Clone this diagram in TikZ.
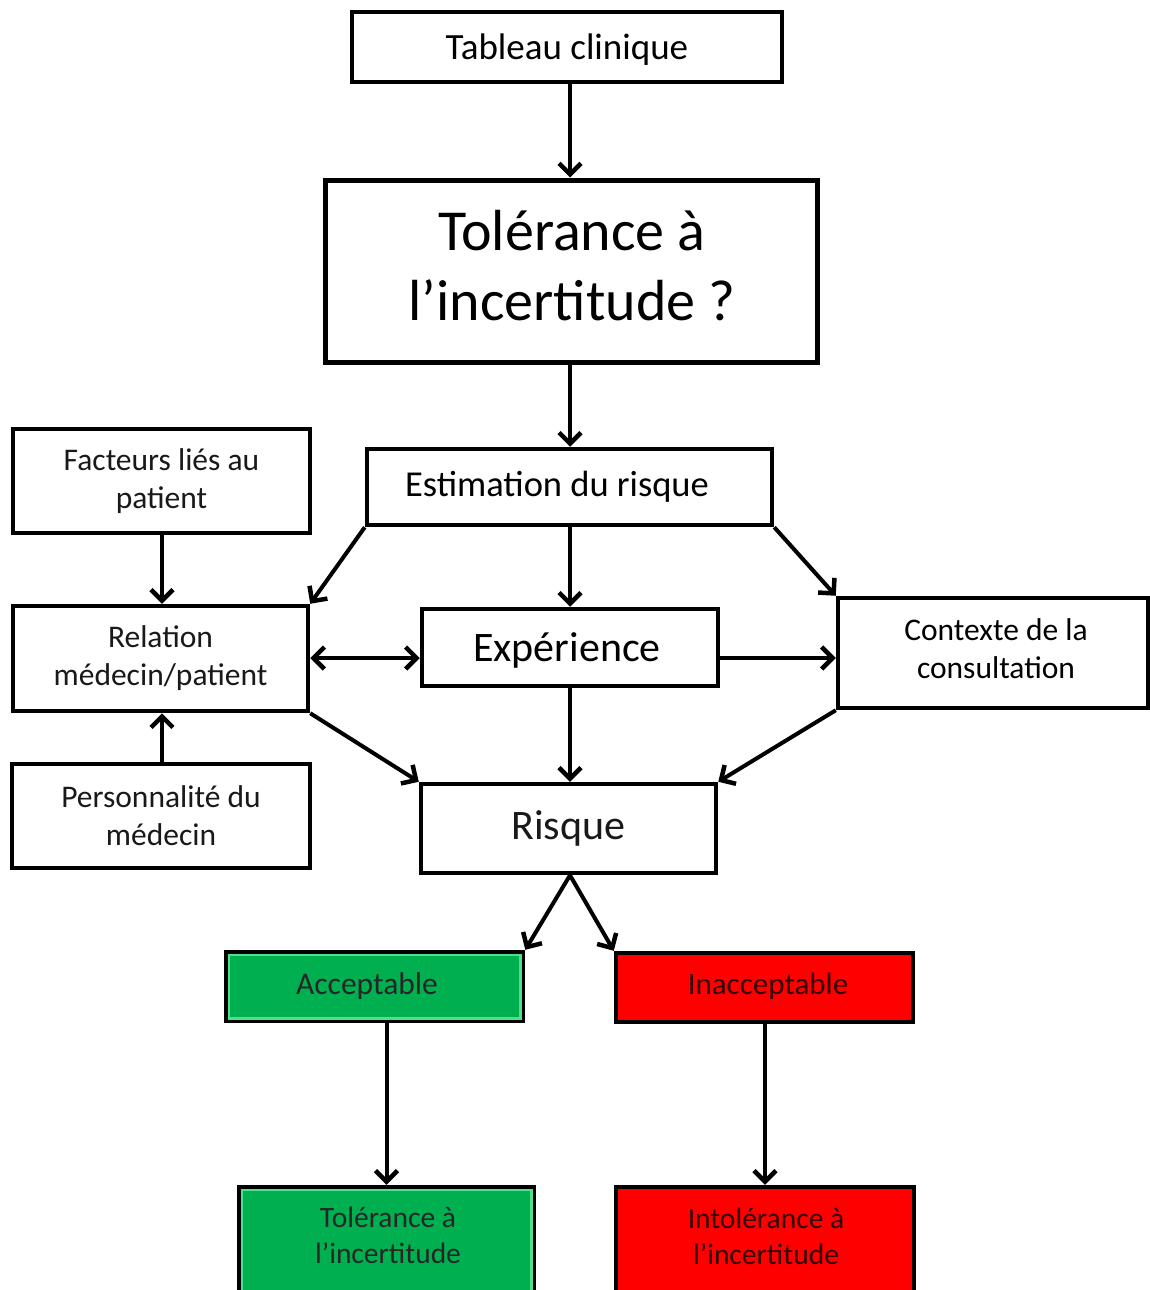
\documentclass[tikz,border=0pt]{standalone}
\usepackage{fontspec}
\setmainfont{Carlito}
\usetikzlibrary{arrows.meta}
\definecolor{okgreen}{HTML}{00B050}
\definecolor{okgreenlight}{HTML}{4FE08A}
\definecolor{badred}{HTML}{FF0000}
\tikzset{
  box/.style={draw=black, line width=4.5pt, fill=white, inner sep=0pt, align=center, text=black!90},
  bigbox/.style={box, line width=5pt},
  greenbox/.style={box, fill=okgreen, text=black!85},
  redbox/.style={box, fill=badred, text=black!80!red},
  lbl/.style={inner sep=0pt, align=center},
  arr/.style={line width=4pt, -{Straight Barb[length=11pt,width=22pt,line width=4.5pt]}},
  darr/.style={line width=4pt, {Straight Barb[length=11pt,width=22pt,line width=4.5pt]}-{Straight Barb[length=11pt,width=22pt,line width=4.5pt]}}
}
\begin{document}
\begin{tikzpicture}[x=1pt,y=-1pt]
\clip (0,0) rectangle (1150,1290);
\fill[white] (0,0) rectangle (1150,1290);

\node[box, minimum width=430, minimum height=70] (tab) at (567,47) {};
\node[lbl, font=\fontsize{37}{44}\selectfont] (tabtxt) at (567,50) {Tableau clinique};
\node[bigbox, minimum width=492, minimum height=182] (tol) at (571,271) {};
\node[lbl, font=\fontsize{58}{70}\selectfont] (toltxt) at (572,266) {Tolérance à\\l’incertitude ?};
\node[box, minimum width=405, minimum height=76] (est) at (569.5,487) {};
\node[lbl, font=\fontsize{36.5}{44}\selectfont] (esttxt) at (557,487) {Estimation du risque};
\node[box, font=\fontsize{31.5}{38}\selectfont, minimum width=297, minimum height=104] (fac) at (161.5,481) {Facteurs liés au\\patient};
\node[box, font=\fontsize{31.5}{38}\selectfont, minimum width=295, minimum height=105] (rel) at (160.5,658.5) {Relation\\médecin/patient};
\node[box, font=\fontsize{31.5}{38}\selectfont, minimum width=298, minimum height=104] (per) at (161,816) {Personnalité du\\médecin};
\node[box, minimum width=296, minimum height=77] (exp) at (570,647.5) {};
\node[lbl, font=\fontsize{42}{48}\selectfont] (exptxt) at (567,650) {Expérience};
\node[box, minimum width=310, minimum height=110] (ctx) at (993,653) {};
\node[lbl, font=\fontsize{31.5}{38}\selectfont] (ctxtxt) at (996,649) {Contexte de la\\consultation};
\node[box, font=\fontsize{42}{48}\selectfont, minimum width=295, minimum height=89] (ris) at (568.5,828.5) {Risque};

\node[greenbox, minimum width=297, minimum height=69] (acc) at (374.5,986.5) {};
\draw[okgreenlight, line width=2.5pt] ([shift={(5,5)}]acc.north west) rectangle ([shift={(-5,-5)}]acc.south east);
\node[lbl, font=\fontsize{31.5}{38}\selectfont, text=black!85] (acctxt) at (367,986) {Acceptable};
\node[redbox, minimum width=297, minimum height=69] (ina) at (764.5,987.5) {};
\node[lbl, font=\fontsize{31}{38}\selectfont, text=black!80!red] (inatxt) at (768,986) {Inacceptable};
\node[greenbox, minimum width=295, minimum height=130] (tolg) at (386.5,1252) {};
\draw[okgreenlight, line width=2.5pt] ([shift={(5,5)}]tolg.north west) rectangle ([shift={(-5,-5)}]tolg.south east);
\node[lbl, font=\fontsize{29.5}{36}\selectfont, text=black!85] (tolgtxt) at (388,1235) {Tolérance à\\l’incertitude};
\node[redbox, minimum width=298, minimum height=130] (intol) at (765,1252) {};
\node[lbl, font=\fontsize{29.5}{36}\selectfont, text=black!80!red] (intoltxt) at (766,1236) {Intolérance à\\l’incertitude};

\coordinate (mid) at (570,658);
\coordinate (lmid) at (162,658);
\draw[arr] (tab.south -| mid) -- (tol.north -| mid);
\draw[arr] (tol.south -| mid) -- (est.north -| mid);
\draw[arr] (est.south west) -- (rel.north east);
\draw[arr] (est.south -| mid) -- (exp.north -| mid);
\draw[arr] (est.south east) -- (ctx.north west);
\draw[arr] (fac.south -| lmid) -- (rel.north -| lmid);
\draw[arr] (per.north -| lmid) -- (rel.south -| lmid);
\draw[darr] (rel.east |- mid) -- (exp.west |- mid);
\draw[arr] (exp.east |- mid) -- (ctx.west |- mid);
\draw[arr] (rel.south east) -- (ris.north west);
\draw[arr] (exp.south -| mid) -- (ris.north -| mid);
\draw[arr] (ctx.south west) -- (ris.north east);
\draw[arr] (ris.south -| mid) -- (acc.north east);
\draw[arr] (ris.south -| mid) -- (ina.north west);
\draw[arr] (acc.south -| tolg.center) -- (tolg.north);
\draw[arr] (ina.south -| intol.center) -- (intol.north);
\end{tikzpicture}
\end{document}
